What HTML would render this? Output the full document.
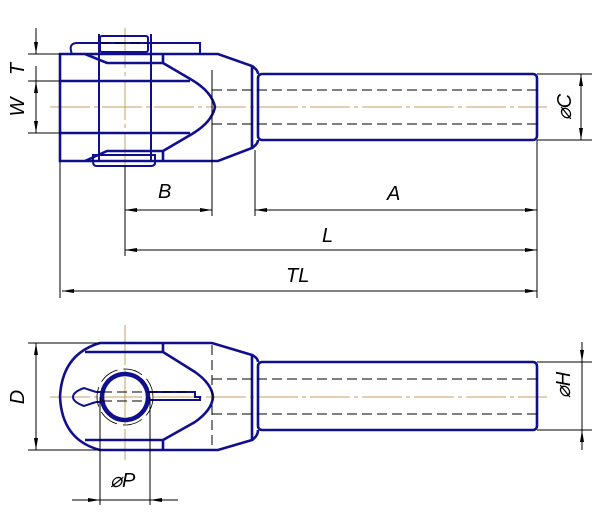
<!DOCTYPE html>
<html><head><style>body{margin:0;background:#fff}svg{display:block}</style></head><body>
<svg width="600" height="518" viewBox="0 0 600 518" xmlns="http://www.w3.org/2000/svg">
<defs>
<marker id="a" viewBox="0 0 12 6" refX="12" refY="3" markerWidth="12" markerHeight="6" orient="auto-start-reverse" markerUnits="userSpaceOnUse"><path d="M0,1 L12,3 L0,5 z" fill="#000"/></marker>
</defs>
<g font-family="Liberation Sans, sans-serif" font-style="italic" font-size="20" fill="#000">
<g stroke="#c8a060" stroke-width="1" stroke-dasharray="40,4,4,4">
<line x1="50" y1="107" x2="547" y2="107"/>
<line x1="50" y1="397" x2="547" y2="397"/>
<line x1="125" y1="28" x2="125" y2="168"/>
<line x1="125" y1="325" x2="125" y2="460"/>
</g>
<g fill="none" stroke="#10108f" stroke-width="2.6">
<rect x="258" y="74" width="279" height="66" rx="4"/>
<path d="M60,54 H218 L252,66 V148 L218,161 H60 Z"/>
<path d="M252,66 Q258,70 258,74 M252,148 Q258,144 258,140"/>
<path d="M60,81 H190 M60,133 H190"/>
<path d="M85,54 L107,63 H163 V54 M163,63 L192,80 Q212,92 215,107 Q212,122 192,134 L163,151 V161 M163,151 H107 L85,161"/>
<path d="M99,34 V162 M151,34 V162" stroke-width="2"/>
<rect x="100" y="36" width="48" height="16" rx="2" stroke-width="2"/>
<path d="M72,54 Q68,44 76,43 H200 V54" stroke-width="2"/>
<path d="M93,155 H155 V163 Q155,166 150,166 H97 Q93,166 93,162 Z" stroke-width="2"/>
</g>
<g stroke="#000" stroke-width="1" stroke-dasharray="10,5" fill="none">
<line x1="212" y1="90" x2="537" y2="90"/><line x1="212" y1="124" x2="537" y2="124"/>
<line x1="100" y1="43" x2="148" y2="43"/>
</g>
<g stroke="#000" stroke-width="1" fill="none">
<path d="M28,54 H60 M28,81 H60 M28,133 H60"/>
<line x1="36" y1="28" x2="36" y2="54" marker-end="url(#a)"/>
<line x1="36" y1="81" x2="36" y2="133" marker-start="url(#a)" marker-end="url(#a)"/>
<line x1="36" y1="81" x2="36" y2="66" />
<path d="M212,70 V216 M255,150 V216 M125,166 V256 M60,161 V298 M537,140 V298 M537,74 H592 M537,140 H592"/>
<line x1="125" y1="210" x2="212" y2="210" marker-start="url(#a)" marker-end="url(#a)"/>
<line x1="255" y1="210" x2="537" y2="210" marker-start="url(#a)" marker-end="url(#a)"/>
<line x1="125" y1="250" x2="537" y2="250" marker-start="url(#a)" marker-end="url(#a)"/>
<line x1="62" y1="291" x2="537" y2="291" marker-start="url(#a)" marker-end="url(#a)"/>
<line x1="581" y1="74" x2="581" y2="140" marker-start="url(#a)" marker-end="url(#a)"/>
</g>
<text x="158" y="198">B</text>
<text x="387" y="200">A</text>
<text x="322" y="242">L</text>
<text x="286" y="282">TL</text>
<text transform="translate(24,69) rotate(-90)" text-anchor="middle">T</text>
<text transform="translate(24,107) rotate(-90)" text-anchor="middle">W</text>
<text transform="translate(571,107) rotate(-90)" text-anchor="middle">⌀C</text>
<g fill="none" stroke="#10108f" stroke-width="2.6">
<rect x="258" y="362" width="279" height="68" rx="4"/>
<path d="M100,343 H212 L252,355 V440 L218,450 H100 Q62,440 60,397 Q62,354 100,343 Z"/>
<path d="M252,355 Q258,358 258,362 M252,440 Q258,436 258,430"/>
<path d="M85,352 H163 V343 M163,352 L195,372 Q212,384 213,397 Q212,410 195,422 L163,440 V450 M163,440 H85"/>
<circle cx="125" cy="397" r="23" stroke-width="4.5"/>
<path d="M148,392 H195 V397 H200 V400 H148" stroke-width="2"/>
<path d="M96,392 L84,388 Q73,392 73,397 Q73,402 84,406 L96,402" stroke-width="2"/>
<path d="M96,392 H102 V402 H96" stroke-width="2"/>
</g>
<circle cx="125" cy="397" r="28" fill="none" stroke="#000" stroke-width="0.8" stroke-dasharray="20,6"/>
<g stroke="#000" stroke-width="1" stroke-dasharray="10,5" fill="none">
<line x1="212" y1="345" x2="212" y2="450"/>
<line x1="212" y1="379" x2="537" y2="379"/><line x1="212" y1="414" x2="537" y2="414"/>
<line x1="102" y1="392" x2="190" y2="392"/><line x1="102" y1="401" x2="148" y2="401"/>
</g>
<g stroke="#000" stroke-width="1" fill="none">
<path d="M28,343 H100 M28,450 H100 M100,397 V505 M150,397 V505 M537,362 H592 M537,430 H592"/>
<line x1="36" y1="343" x2="36" y2="450" marker-start="url(#a)" marker-end="url(#a)"/>
<line x1="72" y1="500" x2="100" y2="500" marker-end="url(#a)"/>
<line x1="178" y1="500" x2="150" y2="500" marker-end="url(#a)"/>
<line x1="100" y1="500" x2="150" y2="500"/>
<line x1="582" y1="342" x2="582" y2="362" marker-end="url(#a)"/>
<line x1="582" y1="450" x2="582" y2="430" marker-end="url(#a)"/>
<line x1="582" y1="362" x2="582" y2="430"/>
</g>
<text transform="translate(24,397) rotate(-90)" text-anchor="middle">D</text>
<text x="110" y="487">⌀P</text>
<text transform="translate(570,385) rotate(-90)" text-anchor="middle">⌀H</text>
</g>
</svg>
</body></html>
